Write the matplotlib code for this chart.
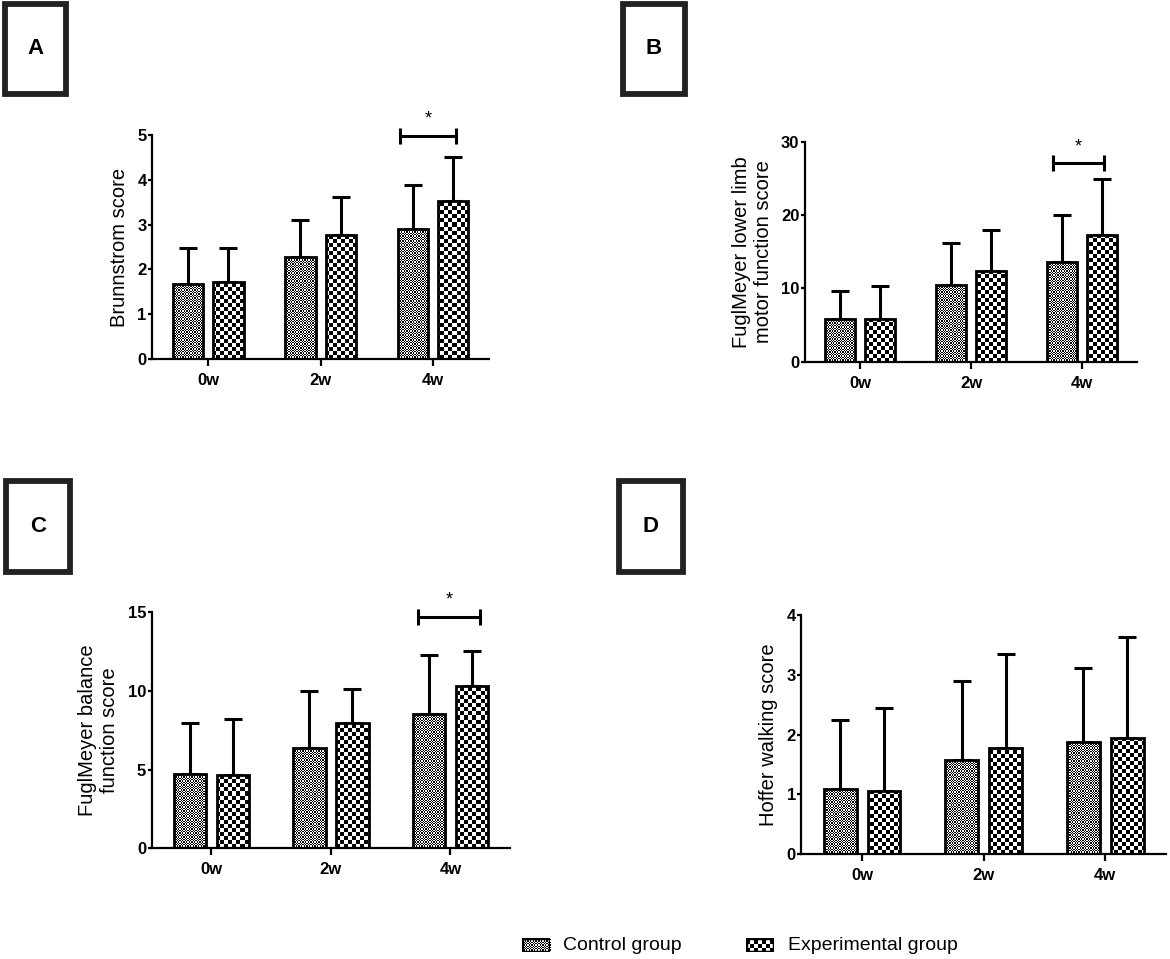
import numpy as np
import matplotlib
matplotlib.use("Agg")
import matplotlib.pyplot as plt
from matplotlib.patches import Rectangle

plt.rcParams['font.family'] = ['Liberation Sans', 'DejaVu Sans']

# -------------------------------
# data
# -------------------------------
weeks = ['0w', '2w', '4w']
groups = ['Control group', 'Experimental group']

brunn_ctrl = [1.68, 2.28, 2.90]
brunn_ctrl_sd = [0.79, 0.83, 0.99]
brunn_exp = [1.71, 2.77, 3.54]
brunn_exp_sd = [0.76, 0.86, 0.98]

fmlower_ctrl = [5.77, 10.45, 13.55]
fmlower_ctrl_sd = [3.91, 5.75, 6.45]
fmlower_exp = [5.82, 12.36, 17.27]
fmlower_exp_sd = [4.54, 5.59, 7.63]

fmbal_ctrl = [4.70, 6.40, 8.52]
fmbal_ctrl_sd = [3.29, 3.62, 3.77]
fmbal_exp = [4.66, 7.94, 10.32]
fmbal_exp_sd = [3.56, 2.16, 2.24]

hoffer_ctrl = [1.09, 1.58, 1.87]
hoffer_ctrl_sd = [1.15, 1.32, 1.25]
hoffer_exp = [1.05, 1.77, 1.94]
hoffer_exp_sd = [1.39, 1.58, 1.70]

ylabels = ['Brunnstrom score',
           'FuglMeyer lower limb\nmotor function score',
           'FuglMeyer balance\nfunction score',
           'Hoffer walking score']
yticks = [[0, 1, 2, 3, 4, 5], [0, 10, 20, 30], [0, 5, 10, 15], [0, 1, 2, 3, 4]]
panel_letters = ['A', 'B', 'C', 'D']
sig_y = [4.98, 27.05, 14.72, None]     # significance bracket height (None = no bracket)
sig_x = [(1.71, 2.21), (1.74, 2.20), (1.73, 2.25), None]

# -------------------------------
# layout (figure fractions)
# -------------------------------
W_PX, H_PX = 1170, 959
fig = plt.figure(figsize=(W_PX / 100, H_PX / 100), dpi=100)

axes_rects = [[0.130, 0.6257, 0.288, 0.2333],
              [0.688, 0.6228, 0.284, 0.2294],
              [0.1297, 0.1154, 0.3063, 0.2461],
              [0.685, 0.1092, 0.3116, 0.2495]]
# label boxes in pixels: x0, y0 (top), x1, y1
boxes_px = [(5, 4, 66, 94), (623, 4, 685, 94), (6, 481, 70, 572), (619, 481, 683, 572)]

data = [(brunn_ctrl, brunn_ctrl_sd, brunn_exp, brunn_exp_sd),
        (fmlower_ctrl, fmlower_ctrl_sd, fmlower_exp, fmlower_exp_sd),
        (fmbal_ctrl, fmbal_ctrl_sd, fmbal_exp, fmbal_exp_sd),
        (hoffer_ctrl, hoffer_ctrl_sd, hoffer_exp, hoffer_exp_sd)]

CELL_CTRL = 1.3   # checker cell size in pixels
CELL_EXP = 4.0


def checker_image(ax, cell, clip_patch):
    pos = ax.get_position()
    w = pos.width * W_PX
    h = pos.height * H_PX
    nx = int(np.ceil(w / cell)) + 1
    ny = int(np.ceil(h / cell)) + 1
    arr = np.add.outer(np.arange(ny), np.arange(nx)) % 2
    x0, x1 = ax.get_xlim()
    y0, y1 = ax.get_ylim()
    ext = (x0, x0 + nx * cell / w * (x1 - x0), y0, y0 + ny * cell / h * (y1 - y0))
    im = ax.imshow(arr, cmap='gray', vmin=0, vmax=1, extent=ext, origin='lower',
                   interpolation='nearest', aspect='auto', zorder=2)
    im.set_clip_path(clip_patch)
    return im


x = np.arange(len(weeks))
off = 0.18
bw = 0.27

for i in range(4):
    ax = fig.add_axes(axes_rects[i])
    ctrl, ctrl_sd, exp, exp_sd = data[i]
    xlim = (-0.5, 2.5)
    ylim = (0, yticks[i][-1])
    ax.set_xlim(xlim)
    ax.set_ylim(ylim)

    b1 = ax.bar(x - off, ctrl, bw, facecolor='none', edgecolor='black', lw=2, zorder=3)
    b2 = ax.bar(x + off, exp, bw, facecolor='none', edgecolor='black', lw=2, zorder=3)
    for p in b1.patches:
        checker_image(ax, CELL_CTRL, p)
    for p in b2.patches:
        checker_image(ax, CELL_EXP, p)

    ax.errorbar(x - off, ctrl, yerr=[np.zeros(3), ctrl_sd], fmt='none', ecolor='black',
                elinewidth=2.2, capsize=6.5, capthick=2.2, zorder=1)
    ax.errorbar(x + off, exp, yerr=[np.zeros(3), exp_sd], fmt='none', ecolor='black',
                elinewidth=2.2, capsize=6.5, capthick=2.2, zorder=1)

    ax.set_xlim(xlim)
    ax.set_ylim(ylim)

    # significance bracket
    if sig_y[i] is not None:
        xa, xb = sig_x[i]
        ax.errorbar((xa + xb) / 2, sig_y[i], xerr=(xb - xa) / 2, fmt='none', ecolor='black',
                    elinewidth=2.2, capsize=5.5, capthick=2.2, clip_on=False, zorder=4)
        ax.annotate('*', ((xa + xb) / 2, sig_y[i]), xytext=(0, 6), textcoords='offset points',
                    ha='center', va='bottom', fontsize=13, annotation_clip=False)

    ax.spines['top'].set_visible(False)
    ax.spines['right'].set_visible(False)
    ax.spines['left'].set_linewidth(1.6)
    ax.spines['bottom'].set_linewidth(1.6)
    ax.set_xticks(x)
    ax.set_xticklabels(weeks, fontsize=12, fontweight='bold')
    ax.set_yticks(yticks[i])
    ax.set_yticklabels([str(t) for t in yticks[i]], fontsize=12, fontweight='bold')
    ax.tick_params(axis='x', length=5, width=1.6, pad=5)
    ax.tick_params(axis='y', length=3, width=1.6, pad=1)
    ax.set_ylabel(ylabels[i], fontsize=14.5, labelpad=6, linespacing=1.2)

    # panel label box
    bx0, by0, bx1, by1 = boxes_px[i]
    fig.patches.append(Rectangle((bx0 / W_PX, 1 - by1 / H_PX), (bx1 - bx0) / W_PX,
                                 (by1 - by0) / H_PX, transform=fig.transFigure,
                                 facecolor='white', edgecolor='#222222', lw=4.2))
    fig.text((bx0 + bx1) / 2 / W_PX, 1 - (by0 + by1) / 2 / H_PX, panel_letters[i],
             ha='center', va='center', fontsize=16, fontweight='bold')

# -------------------------------
# legend (drawn by hand so the swatches carry the checker fill)
# -------------------------------
leg_px = [(522, 938, 550, 952), (746, 938, 774, 952)]
leg_text_x = [563, 788]
for j, cell in enumerate([CELL_CTRL, CELL_EXP]):
    lx0, ly0, lx1, ly1 = leg_px[j]
    lax = fig.add_axes([lx0 / W_PX, 1 - ly1 / H_PX, (lx1 - lx0) / W_PX, (ly1 - ly0) / H_PX])
    lax.set_xlim(0, 1)
    lax.set_ylim(0, 1)
    sw = Rectangle((0, 0), 1, 1, facecolor='none', edgecolor='black', lw=2.5, zorder=3)
    lax.add_patch(sw)
    checker_image(lax, cell, sw)
    lax.set_xlim(0, 1)
    lax.set_ylim(0, 1)
    lax.axis('off')
    fig.text(leg_text_x[j] / W_PX, 1 - 945 / H_PX, groups[j], ha='left', va='center', fontsize=14)

fig.savefig("out.png", dpi=100)
